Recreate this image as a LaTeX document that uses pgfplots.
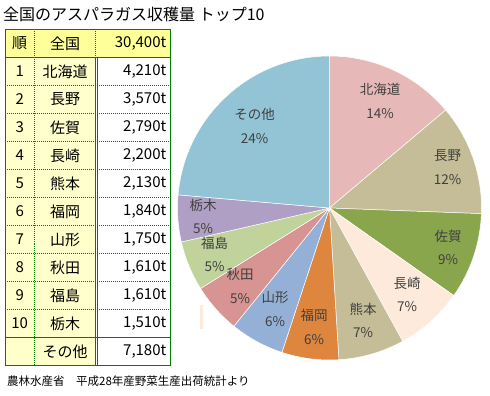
\documentclass[border=0pt]{standalone}
\usepackage{fontspec}
\setmainfont{Noto Sans CJK JP}
\usepackage{pgfplots}
\usepackage{pgfplotstable}
\pgfplotsset{compat=1.18}
\definecolor{pie0}{HTML}{E6B9B8}
\definecolor{pie1}{HTML}{C4BD97}
\definecolor{pie2}{HTML}{8AA64D}
\definecolor{pie3}{HTML}{FDEADA}
\definecolor{pie4}{HTML}{C4BD97}
\definecolor{pie5}{HTML}{DE853E}
\definecolor{pie6}{HTML}{95B0D6}
\definecolor{pie7}{HTML}{D79492}
\definecolor{pie8}{HTML}{BFD39B}
\definecolor{pie9}{HTML}{B09FC4}
\definecolor{pie10}{HTML}{93C4D6}
\definecolor{grn}{HTML}{008000}
\definecolor{hdr}{HTML}{FFFF99}
\definecolor{bod}{HTML}{FFFFCC}
\definecolor{lbl}{HTML}{404040}

\pgfplotstableread[col sep=comma]{
name,value,pct,lx,ly
北海道,4210,14,380,101.5
長野,3570,12,447.5,167.5
佐賀,2790,9,448,248
長崎,2200,7,407,295
熊本,2130,7,363,321
福岡,1840,6,314,327.5
山形,1750,6,275,309.5
秋田,1610,5,240,286.5
福島,1610,5,214.5,255
栃木,1510,5,203,217
その他,7180,24,254.5,126.5
}\piedata

\begin{document}
\begin{tikzpicture}
\path[use as bounding box] (0,0) rectangle (490bp,-396bp);
% cumulative angles (clockwise from 12 o'clock), total 30400
\gdef\cum{0}
\pgfplotsforeachungrouped \i in {0,...,10}{%
  \pgfplotstablegetelem{\i}{value}\of\piedata
  \pgfmathsetmacro\sa{90-\cum}%
  \pgfmathsetmacro\newcum{\cum+\pgfplotsretval/304*3.6}%
  \xdef\cum{\newcum}%
  \pgfmathsetmacro\ea{90-\cum}%
  \expandafter\xdef\csname sa\i\endcsname{\sa}%
  \expandafter\xdef\csname ea\i\endcsname{\ea}%
}
\begin{axis}[hide axis, scale only axis, width=304bp, height=304bp,
  xmin=-1, xmax=1, ymin=-1, ymax=1, at={(329.5bp,-208bp)}, anchor=center, clip=false]
\pgfplotsinvokeforeach{0,...,10}{
  \fill[pie#1, draw=white, line width=0.5bp] (axis cs:0,0) -- ++(\csname sa#1\endcsname:152bp)
    arc[start angle=\csname sa#1\endcsname, end angle=\csname ea#1\endcsname, radius=152bp] -- cycle;
}
\end{axis}
% pie labels
\pgfplotsforeachungrouped \i in {0,...,10}{%
  \pgfplotstablegetelem{\i}{name}\of\piedata \let\nm\pgfplotsretval
  \pgfplotstablegetelem{\i}{pct}\of\piedata \let\pc\pgfplotsretval
  \pgfplotstablegetelem{\i}{lx}\of\piedata \let\lx\pgfplotsretval
  \pgfplotstablegetelem{\i}{ly}\of\piedata \let\ly\pgfplotsretval
  \pgfmathsetmacro\yn{-\ly+12}%
  \pgfmathsetmacro\yp{-\ly-12}%
  \node[text=lbl, font=\fontsize{13.5bp}{15bp}\selectfont, inner sep=0] at (\lx bp,\yn bp) {\nm};
  \node[text=lbl, font=\fontsize{13.5bp}{15bp}\selectfont, inner sep=0] at (\lx bp,\yp bp) {\pc\%};
}
\fill[pie3] (200bp,-305bp) rectangle (202.7bp,-329bp);
% title and source
\node[anchor=west, font=\fontsize{16bp}{18bp}\selectfont, inner sep=0] at (3bp,-14bp) {全国のアスパラガス収穫量 トップ10};
\node[anchor=west, font=\fontsize{11.5bp}{13bp}\selectfont, inner sep=0] at (7bp,-381bp) {農林水産省　平成28年産野菜生産出荷統計より};
% table
\begin{scope}[x=1bp, y=-1bp]
\fill[hdr] (5,29.3) rectangle (170,57.33);
\fill[bod] (5,57.33) rectangle (95.5,365.66);
\fill[white] (97,57.33) rectangle (170,365.66);
\foreach \k in {2,...,10}{
  \draw[grn, line width=1, dash pattern=on 1 off 1] (5,{29.3+\k*28.03}) -- (170,{29.3+\k*28.03});
}
\draw[grn, line width=1, dash pattern=on 1 off 1] (34.3,29.3) -- (34.3,365.66);
\draw[grn, line width=1, dash pattern=on 1 off 1] (95.5,29.3) -- (95.5,57.33);
\draw[grn, line width=1] (95.5,57.33) -- (95.5,365.66);
\draw[grn, line width=1] (97.2,57.33) -- (97.2,365.66);
\draw[grn, line width=1] (5,57.33) -- (170,57.33);
\draw[grn, line width=1] (5,{29.3+11*28.03}) -- (170,{29.3+11*28.03});
\draw[grn, line width=1] (5,29.3) rectangle (170,365.66);
\tikzset{tf/.style={font=\fontsize{15bp}{17bp}\selectfont, inner sep=0}}
\node[tf] at (19.7,43.3) {順};
\node[tf] at (65,43.3) {全国};
\node[tf, anchor=east] at (166.5,43.3) {30,400t};
\pgfplotsforeachungrouped \i in {0,...,10}{%
  \pgfplotstablegetelem{\i}{name}\of\piedata \let\nm\pgfplotsretval
  \pgfplotstablegetelem{\i}{value}\of\piedata \let\tv\pgfplotsretval
  \pgfmathsetmacro\yc{29.3+(\i+1)*28.03+14}%
  \pgfmathtruncatemacro\rk{\i+1}%
  \ifnum\i<10
    \node[tf] at (19.7,\yc) {\rk};
  \fi
  \node[tf] at (65,\yc) {\nm};
  \node[tf, anchor=east] at (166.5,\yc) {\pgfmathprintnumber[fixed,precision=0,1000 sep={,},assume math mode=true]{\tv}t};
}
\end{scope}
\end{tikzpicture}
\end{document}
